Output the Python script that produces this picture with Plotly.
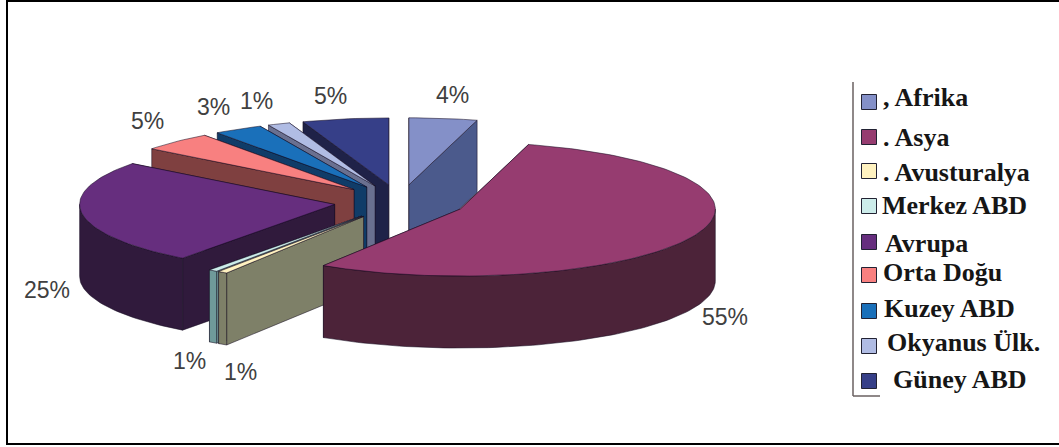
import math
import plotly.graph_objects as go

# ---- data ----
categories = [", Afrika", ". Asya", ". Avusturalya", "Merkez ABD", "Avrupa",
              "Orta Doğu", "Kuzey ABD", "Okyanus Ülk.", "Güney ABD"]
values = [4.3, 54.6, 0.6, 0.55, 25.2, 4.6, 3.1, 1.4, 5.45]
top_colors = ["#8490C8", "#963C70", "#FFF2C0", "#CCECEA", "#662E7E",
              "#F88080", "#1A70BA", "#B0BCE4", "#363F88"]
side_colors = ["#4B5A8C", "#4C2339", "#7E8068", "#6F9A9A", "#301A3C",
               "#7F4040", "#103C68", "#6A7090", "#1F2248"]

# ---- projection of the tilted, exploded pie (pixel space) ----
CX, CY, RX, RY = 400, 202, 255, 67
EXPLODE, DEPTH = 66, 72
draw_order = [0, 8, 7, 6, 5, 4, 3, 2, 1]
label_pos = [(452, 95), (725, 317), (240, 372), (189, 361), (47, 290),
             (147, 121), (213, 107), (256, 101), (330, 96)]
legend_swatch_x = 869
legend_y = [102, 137, 171, 206, 242, 275, 311, 346, 381]
legend_text_x = [881, 881, 881, 880, 883, 881, 882, 885, 891]
legend_text_y = [97, 137, 172, 205, 243, 272, 308, 342, 379]

fig = go.Figure()


def face(xs, ys, color, edge="rgba(20,10,30,0.65)"):
    fig.add_trace(go.Scatter(x=xs + xs[:1], y=ys + ys[:1], mode="lines", fill="toself",
                             fillcolor=color, line=dict(color=edge, width=0.8),
                             hoverinfo="skip", showlegend=False))


total = sum(values)
starts, acc = [], 0.0
for v in values:
    starts.append(acc / total * 2 * math.pi)
    acc += v

for i in draw_order:
    a0 = starts[i]
    a1 = a0 + values[i] / total * 2 * math.pi
    mid = (a0 + a1) / 2
    ax = CX + EXPLODE * math.sin(mid)
    ay = CY - EXPLODE * math.cos(mid) * RY / RX
    n = max(4, int((a1 - a0) * 40))
    angles = [a0 + (a1 - a0) * k / n for k in range(n + 1)]
    px = [ax + RX * math.sin(t) for t in angles]
    py = [ay - RY * math.cos(t) for t in angles]
    # radial walls, the farther one first
    ends = sorted([(py[0], px[0]), (py[-1], px[-1])])
    for ey, ex in ends:
        face([ax, ex, ex, ax], [ay, ey, ey + DEPTH, ay + DEPTH], side_colors[i])
    # outer wall, only its front part can be seen
    front = [t for t in angles if math.cos(t) <= 0]
    for extreme in (math.pi / 2, 3 * math.pi / 2):
        if a0 < extreme < a1:
            front.append(extreme)
    front.sort()
    if len(front) > 1:
        wx = [ax + RX * math.sin(t) for t in front]
        wy = [ay - RY * math.cos(t) for t in front]
        face(wx + wx[::-1], wy + [y + DEPTH for y in wy[::-1]], side_colors[i])
    # top
    face([ax] + px, [ay] + py, top_colors[i])

for i, (lx, ly) in enumerate(label_pos):
    fig.add_annotation(x=lx, y=ly, text=f"{round(values[i] / total * 100)}%", showarrow=False,
                       font=dict(family="Liberation Sans", size=23, color="#404040"))

# legend
fig.add_trace(go.Scatter(x=[legend_swatch_x] * len(categories), y=legend_y, mode="markers",
                         marker=dict(symbol="square", size=15, color=top_colors,
                                     line=dict(color="#222233", width=1)),
                         hoverinfo="skip", showlegend=False))
for name, tx, ty in zip(categories, legend_text_x, legend_text_y):
    fig.add_annotation(x=tx, y=ty, text=f"<b>{name}</b>", showarrow=False, xanchor="left",
                       font=dict(family="Liberation Serif", size=26, color="#161616"))

fig.update_layout(
    width=1059, height=447, margin=dict(l=0, r=0, t=0, b=0),
    paper_bgcolor="white", plot_bgcolor="white",
    xaxis=dict(range=[0, 1059], visible=False, fixedrange=True),
    yaxis=dict(range=[447, 0], visible=False, fixedrange=True),
    shapes=[
        dict(type="line", x0=7, y0=0, x1=7, y1=445, line=dict(color="#000000", width=2)),
        dict(type="line", x0=7, y0=1, x1=1059, y1=1, line=dict(color="#000000", width=2)),
        dict(type="line", x0=7, y0=444, x1=1059, y1=444, line=dict(color="#000000", width=2)),
        dict(type="line", x0=853, y0=82, x1=853, y1=396, line=dict(color="#6A6060", width=1.5)),
        dict(type="line", x0=853, y0=396, x1=880, y1=396, line=dict(color="#6A6060", width=1.5)),
    ],
)
fig.write_html("out.html", config={"displayModeBar": False},
               post_script="document.body.style.margin='0';document.body.style.overflow='hidden';")
